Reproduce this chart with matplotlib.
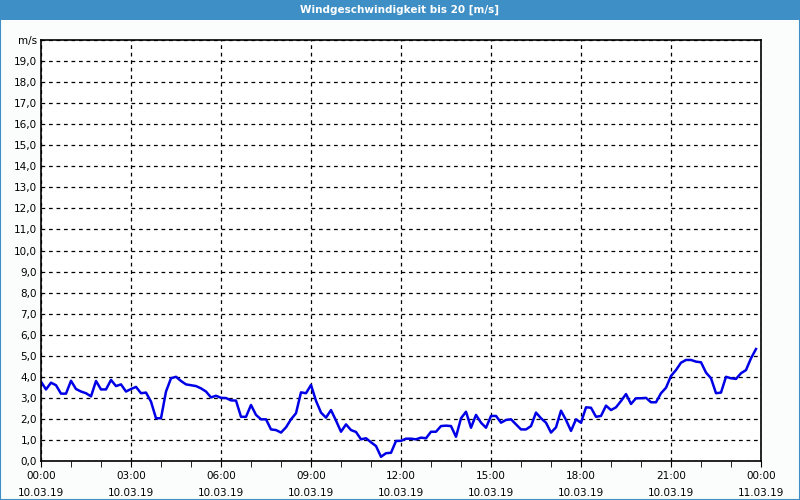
import numpy as np
import pandas as pd
import matplotlib
matplotlib.use("Agg")
import matplotlib.pyplot as plt
import matplotlib.dates as mdates
from matplotlib.patches import Rectangle
from matplotlib.ticker import FuncFormatter

# wind speed, 10-minute values from 10.03.19 00:00
speed = [
    3.77, 3.4, 3.72, 3.6, 3.2, 3.2, 3.81, 3.42, 3.3, 3.22, 3.07, 3.8, 3.4, 3.4,
    3.85, 3.56, 3.64, 3.3, 3.42, 3.52, 3.22, 3.25, 2.82, 2.03, 2.03,
    3.3, 3.93, 4.0, 3.8, 3.64, 3.6, 3.56, 3.45, 3.3, 3.02, 3.1, 3.0, 2.99, 2.88,
    2.87, 2.1, 2.1, 2.66, 2.19, 1.98, 1.98, 1.5, 1.47, 1.35,
    1.6, 1.98, 2.27, 3.26, 3.22, 3.61, 2.86, 2.3, 2.06, 2.42, 1.92, 1.39, 1.74,
    1.47, 1.38, 1.03, 1.08, 0.89, 0.71, 0.2, 0.37, 0.39, 0.95, 0.96,
    1.06, 1.06, 1.03, 1.11, 1.08, 1.39, 1.39, 1.66, 1.68, 1.66, 1.15, 2.03, 2.34,
    1.58, 2.19, 1.82, 1.58, 2.14, 2.14, 1.82, 1.95, 1.98, 1.74, 1.5,
    1.5, 1.66, 2.3, 2.03, 1.82, 1.35, 1.6, 2.39, 1.95, 1.43, 1.98, 1.82, 2.55,
    2.53, 2.1, 2.14, 2.63, 2.42, 2.55, 2.85, 3.18, 2.71, 2.98, 2.98,
    3.0, 2.79, 2.79, 3.22, 3.48, 4.04, 4.32, 4.67, 4.8, 4.8, 4.72, 4.69, 4.2,
    3.93, 3.22, 3.25, 4.0, 3.93, 3.9, 4.17, 4.32, 4.88, 5.32,
]
times = pd.date_range("2019-03-10 00:00", periods=len(speed), freq="10min")
start = pd.Timestamp("2019-03-10 00:00")
end = pd.Timestamp("2019-03-11 00:00")
title = "Windgeschwindigkeit bis 20 [m/s]"
unit = "m/s"

plt.rcParams["font.family"] = ["DejaVu Sans"]

fig = plt.figure(figsize=(8, 5), dpi=100, facecolor="#fbfdfc")
fig.patches.append(Rectangle((0, 0.96), 1, 0.04, transform=fig.transFigure,
                             facecolor="#3d8fc6", edgecolor="none"))
fig.patches.append(Rectangle((0.0006, 0.001), 0.9988, 0.998, transform=fig.transFigure,
                             facecolor="none", edgecolor="#3d8fc6", lw=1.5))
fig.text(0.5, 0.98, title, color="white", fontsize=7.5, fontweight="bold",
         ha="center", va="center")

ax = fig.add_axes([41 / 800, 39 / 500, 720 / 800, 421 / 500])
ax.set_facecolor("white")
ax.plot(times, speed, color="#0000e6", lw=1.8)

ax.set_xlim(start, end)
ax.set_ylim(0, 20)
ax.set_yticks(np.arange(0, 21, 1))
ax.yaxis.set_major_formatter(FuncFormatter(
    lambda v, p: unit if v >= 20 else f"{v:.1f}".replace(".", ",")))
ax.tick_params(axis="y", length=0, labelsize=7.5, pad=3)

ax.xaxis.set_major_locator(mdates.HourLocator(byhour=range(0, 24, 3)))
ax.xaxis.set_minor_locator(mdates.HourLocator())
ax.xaxis.set_major_formatter(mdates.DateFormatter("%H:%M\n%d.%m.%y"))
ax.tick_params(axis="x", which="both", length=4, labelsize=7.5, pad=3)
for lbl in ax.get_xticklabels():
    lbl.set_linespacing(1.9)

ax.grid(True, which="major", color="black", linestyle=(0, (3, 3)), lw=0.9)
ax.set_axisbelow(True)
for s in ax.spines.values():
    s.set_linewidth(1.2)

fig.savefig("out.png", dpi=100, facecolor=fig.get_facecolor())
